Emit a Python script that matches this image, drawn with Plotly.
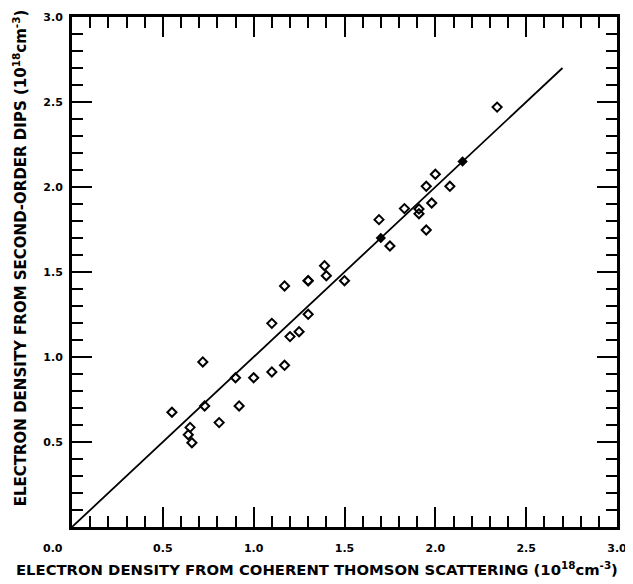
import plotly.graph_objects as go

# Open-diamond measurements (x: coherent Thomson scattering, y: second-order dips), 10^18 cm^-3
thomson = [0.55, 0.64, 0.65, 0.66, 0.72, 0.73, 0.81, 0.90, 0.92, 1.00,
           1.10, 1.10, 1.17, 1.17, 1.20, 1.25, 1.30, 1.30, 1.30, 1.39,
           1.40, 1.50, 1.69, 1.75, 1.83, 1.91, 1.91, 1.95, 1.95, 1.98,
           2.00, 2.08, 2.34]
dips = [0.675, 0.543, 0.586, 0.496, 0.971, 0.712, 0.614, 0.878, 0.712, 0.878,
        0.912, 1.198, 0.951, 1.418, 1.12, 1.149, 1.251, 1.449, 1.449, 1.537,
        1.478, 1.449, 1.808, 1.653, 1.873, 1.871, 1.843, 1.747, 2.004, 1.906,
        2.075, 2.004, 2.47]

# Filled diamonds on the line
filled_x = [1.70, 2.15]
filled_y = [1.70, 2.15]

# Fitted line
fit_x = [0.0, 2.7]
fit_y = [0.0, 2.7]

tick_vals = [0.5, 1.0, 1.5, 2.0, 2.5, 3.0]
tick_text = ["0.5", "1.0", "1.5", "2.0", "2.5", "3.0"]

FONT = "DejaVu Sans"

fig = go.Figure()
fig.add_trace(go.Scatter(x=fit_x, y=fit_y, mode="lines",
                         line=dict(color="black", width=1.8), hoverinfo="skip"))
fig.add_trace(go.Scatter(x=thomson, y=dips, mode="markers",
                         marker=dict(symbol="diamond-open", size=7, color="black",
                                     line=dict(width=2, color="black"))))
fig.add_trace(go.Scatter(x=filled_x, y=filled_y, mode="markers",
                         marker=dict(symbol="diamond", size=8, color="black")))

axis_common = dict(
    range=[0, 3], tickvals=tick_vals, ticktext=tick_text,
    ticks="inside", ticklen=20, tickwidth=2, tickcolor="black",
    minor=dict(dtick=0.1, tick0=0, ticks="inside", ticklen=11, tickwidth=2, tickcolor="black"),
    showline=True, linewidth=3, linecolor="black", mirror="allticks",
    showgrid=False, zeroline=False, automargin=False,
    tickfont=dict(family=FONT, size=11, color="black", weight="bold"),
)

fig.update_xaxes(**axis_common, ticklabelstandoff=9)
fig.update_yaxes(**axis_common, ticklabelstandoff=4)

# page body has an 8px default margin, so the figure is sized/placed to compensate
fig.update_layout(
    width=625, height=576,
    margin=dict(l=64, r=16, t=9, b=57),
    plot_bgcolor="white", paper_bgcolor="white",
    showlegend=False,
    annotations=[
        dict(text="0.0", x=0, y=0, xref="x", yref="y", showarrow=False,
             xshift=-19, yshift=-21,
             font=dict(family=FONT, size=11, color="black", weight="bold")),
        dict(text="ELECTRON DENSITY FROM COHERENT THOMSON SCATTERING (10<sup>18</sup>cm<sup>-3</sup>)",
             x=0.45, y=0, xref="paper", yref="paper", xanchor="center", yanchor="middle",
             yshift=-41, showarrow=False,
             font=dict(family=FONT, size=14.8, color="black", weight="bold")),
        dict(text="ELECTRON DENSITY FROM SECOND-ORDER DIPS (10<sup>18</sup>cm<sup>-3</sup>)",
             x=-0.0954, y=0.527, xref="paper", yref="paper", xanchor="center", yanchor="middle",
             textangle=-90, showarrow=False,
             font=dict(family=FONT, size=15, color="black", weight="bold")),
    ],
)

fig.write_html("out.html")
